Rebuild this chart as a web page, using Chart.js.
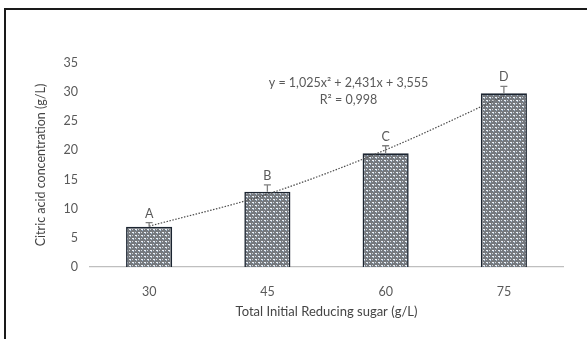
<!DOCTYPE html>
<html>
<head>
<meta charset="utf-8">
<script src="https://cdn.jsdelivr.net/npm/chart.js@4"></script>
<style>
  html, body { margin: 0; padding: 0; background: #fff; }
  #frame {
    position: absolute; left: 4px; top: 8px;
    width: 583px; height: 331px;
    border-left: 2px solid #1a1a1a; border-top: 2px solid #1a1a1a;
  }
  canvas { display: block; }
</style>
</head>
<body>
<div id="frame"><canvas id="acidChart" width="581" height="329"></canvas></div>
<script>
const sugarLevels = ["30", "45", "60", "75"];
const citricAcid = [6.9, 12.9, 19.5, 29.8];
const errorTop = [7.6, 14.1, 20.8, 31.0];
const groupLetters = ["A", "B", "C", "D"];
const trendValues = [7.0, 12.5, 20.1, 29.3];
const trendEquation = "y = 1,025x\u00b2 + 2,431x + 3,555";
const trendR2 = "R\u00b2 = 0,998";

const textGrey = "#595959";
const fontFam = "Lato, 'Liberation Sans', sans-serif";

// speckled fill like the excel pattern
function makePattern() {
    const p = document.createElement("canvas");
    p.width = 6; p.height = 6;
    const c = p.getContext("2d");
    c.fillStyle = "#75797e";
    c.fillRect(0, 0, 6, 6);
    c.fillStyle = "#eef2f7";
    c.fillRect(0, 0, 2, 1);
    c.fillRect(3, 3, 2, 1);
    c.fillStyle = "#a9c0d8";
    c.fillRect(1, 1, 1, 1);
    c.fillRect(4, 4, 1, 1);
    c.fillStyle = "#cfd4da";
    c.fillRect(3, 0, 1, 1);
    c.fillRect(0, 3, 1, 1);
    return document.getElementById("acidChart").getContext("2d").createPattern(p, "repeat");
}

const extras = {
    id: "extras",
    afterDatasetsDraw(chart) {
        const ctx = chart.ctx;
        const y = chart.scales.y;
        const meta = chart.getDatasetMeta(0);
        ctx.save();
        ctx.strokeStyle = "#7f7f7f";
        ctx.lineWidth = 1.3;
        ctx.fillStyle = textGrey;
        ctx.font = "12.5px " + fontFam;
        ctx.textAlign = "center";
        ctx.textBaseline = "middle";
        meta.data.forEach((bar, i) => {
            const yTop = y.getPixelForValue(errorTop[i]);
            const yVal = y.getPixelForValue(citricAcid[i]);
            ctx.beginPath();
            ctx.moveTo(bar.x, yVal);
            ctx.lineTo(bar.x, yTop);
            ctx.moveTo(bar.x - 3.5, yTop);
            ctx.lineTo(bar.x + 3.5, yTop);
            ctx.stroke();
            ctx.fillText(groupLetters[i], bar.x, yTop - 9);
        });
        // equation box
        const cx = (meta.data[1].x + meta.data[2].x) / 2 + 22;
        ctx.font = "12.5px " + fontFam;
        ctx.fillText(trendEquation, cx, y.getPixelForValue(31.6));
        ctx.fillText(trendR2, cx, y.getPixelForValue(28.6));
        ctx.restore();
    }
};

new Chart(document.getElementById("acidChart").getContext("2d"), {
    data: {
        labels: sugarLevels,
        datasets: [{
            type: "bar",
            data: citricAcid,
            backgroundColor: makePattern(),
            borderColor: "#1b2430",
            borderWidth: 1.6,
            barPercentage: 0.39,
            categoryPercentage: 1,
            order: 2
        }, {
            type: "line",
            data: trendValues,
            borderColor: "#4d4d4d",
            borderWidth: 1.2,
            borderDash: [1.5, 1.5],
            pointRadius: 0,
            cubicInterpolationMode: "monotone",
            fill: false,
            order: 1
        }]
    },
    options: {
        responsive: false,
        animation: false,
        layout: { padding: { left: 27, right: 24, top: 53, bottom: 19 } },
        plugins: {
            legend: { display: false },
            tooltip: { enabled: false }
        },
        scales: {
            x: {
                grid: { display: false, drawTicks: false },
                border: { color: "#bfbfbf", width: 1.3 },
                ticks: { color: textGrey, font: { size: 12.5, family: fontFam }, padding: 17 },
                title: {
                    display: true,
                    text: "Total Initial Reducing sugar (g/L)",
                    color: "#454545",
                    font: { size: 13, family: fontFam },
                    padding: 0
                },
                afterFit(s) { s.height = 53; }
            },
            y: {
                min: 0,
                max: 35,
                grid: { display: false, drawTicks: false },
                border: { display: false },
                ticks: { stepSize: 5, color: textGrey, font: { size: 12.5, family: fontFam }, padding: 12 },
                title: {
                    display: true,
                    text: "Citric acid concentration (g/L)",
                    color: "#454545",
                    font: { size: 12.5, family: fontFam },
                    padding: 0
                },
                afterFit(s) { s.width = 57; }
            }
        }
    },
    plugins: [extras]
});
</script>
</body>
</html>
